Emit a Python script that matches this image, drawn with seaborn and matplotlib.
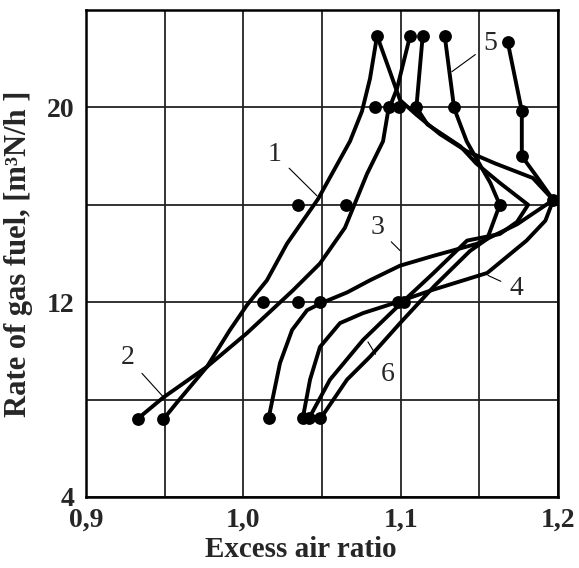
import matplotlib
matplotlib.use("Agg")
import matplotlib.pyplot as plt
import seaborn as sns
import pandas as pd

sns.set_style("white")
plt.rcParams["font.family"] = ["Liberation Serif", "DejaVu Serif"]

# ---- curves (excess air ratio, fuel rate) ----
c1_x = [0.949, 0.9578, 0.9769, 0.9915, 1.0023, 1.015, 1.0278, 1.0475, 1.0678, 1.0754, 1.0805, 1.085]
c1_y = [7.18, 7.88, 9.35, 10.86, 11.88, 12.9, 14.41, 16.24, 18.61, 19.84, 21.18, 22.94]

c2_x = [0.933, 0.949, 0.9769, 1.0023, 1.0316, 1.0487, 1.0646, 1.0786, 1.0888, 1.092, 1.0977, 1.106]
c2_y = [7.22, 8.08, 9.35, 10.73, 12.49, 13.59, 15.06, 17.27, 18.61, 19.84, 20.78, 22.94]

c3_x = [1.0163, 1.0233, 1.031, 1.0405, 1.0494, 1.0659, 1.0805, 1.0996, 1.1206, 1.1485, 1.174, 1.197,
        1.184, 1.160, 1.142, 1.125, 1.110, 1.0996, 1.093, 1.085]
c3_y = [7.31, 9.5, 10.86, 11.67, 11.96, 12.4, 12.9, 13.5, 13.9, 14.4, 15.2, 16.2,
        17.1, 17.7, 18.2, 18.9, 19.7, 20.3, 21.5, 22.94]

c4_x = [1.038, 1.0424, 1.0487, 1.0614, 1.076, 1.0977, 1.12, 1.155, 1.18, 1.192, 1.197,
        1.186, 1.177, 1.177, 1.168]
c4_y = [7.31, 8.82, 10.16, 11.14, 11.55, 12.0, 12.5, 13.2, 14.53, 15.35, 16.2,
        17.2, 18.0, 19.85, 22.7]

c5_x = [1.05, 1.0659, 1.0805, 1.0996, 1.1218, 1.144, 1.155, 1.159, 1.163, 1.157, 1.149, 1.142, 1.134, 1.128]
c5_y = [7.31, 8.82, 9.76, 11.14, 12.69, 14.1, 14.6, 15.3, 16.0, 16.9, 17.8, 18.6, 19.96, 22.94]

c6_x = [1.0424, 1.0551, 1.0761, 1.0977, 1.1206, 1.1422, 1.163, 1.174, 1.181, 1.163, 1.148, 1.138, 1.117, 1.110, 1.114]
c6_y = [7.31, 8.82, 10.45, 11.8, 13.18, 14.53, 14.8, 15.3, 16.0, 16.9, 17.7, 18.4, 19.3, 20.0, 22.94]

# ---- measured points ----
pts_x = [1.085, 1.106, 1.114, 1.128, 1.168,
         1.0837, 1.0926, 1.099, 1.110, 1.134, 1.177,
         1.177,
         1.035, 1.065, 1.163, 1.197,
         1.0125, 1.035, 1.049, 1.0985, 1.102,
         0.933, 0.949, 1.016, 1.038, 1.042, 1.049]
pts_y = [22.94, 22.94, 22.94, 22.94, 22.7,
         20.0, 20.0, 20.0, 20.0, 20.0, 19.85,
         18.0,
         16.0, 16.0, 16.0, 16.2,
         12.0, 12.0, 12.0, 12.0, 12.0,
         7.2, 7.2, 7.25, 7.25, 7.25, 7.25]

x_ticks = [0.9, 0.95, 1.0, 1.05, 1.1, 1.15, 1.2]
x_labels = ["0,9", "", "1,0", "", "1,1", "", "1,2"]
y_ticks = [4, 8, 12, 16, 20, 24]
y_labels = ["4", "", "12", "", "20", ""]

fig = plt.figure(figsize=(5.79, 5.68), dpi=100)
ax = fig.add_axes([86 / 579, 1 - 497 / 568, 472 / 579, 487 / 568])

curves = [(c1_x, c1_y), (c2_x, c2_y), (c3_x, c3_y), (c4_x, c4_y), (c5_x, c5_y), (c6_x, c6_y)]
for cx, cy in curves:
    df = pd.DataFrame({"x": cx, "y": cy})
    sns.lineplot(data=df, x="x", y="y", sort=False, estimator=None, color="black",
                 linewidth=2.8, ax=ax, zorder=3)

sns.scatterplot(x=pts_x, y=pts_y, color="black", s=85, edgecolor="black", linewidth=0,
                ax=ax, zorder=4)

ax.set_xlim(0.9, 1.2)
ax.set_ylim(4, 24)
ax.set_xticks(x_ticks)
ax.set_xticklabels(x_labels)
ax.set_yticks(y_ticks)
ax.set_yticklabels(y_labels)
ax.tick_params(length=0, labelsize=20, pad=8)
for lab in ax.get_xticklabels() + ax.get_yticklabels():
    lab.set_fontweight("bold")
ax.grid(True, color="#222222", linewidth=1.3)
for sp in ax.spines.values():
    sp.set_color("black")
    sp.set_linewidth(1.8)

ax.set_xlabel("Excess air ratio", fontsize=21, fontweight="bold")
ax.xaxis.set_label_coords((301 - 86) / 472, -0.08)
ax.set_ylabel("Rate of gas fuel, [m³N/h ]", fontsize=22, fontweight="bold")
ax.yaxis.set_label_coords(-0.112, 0.5)

labels = [("1", (1.0468, 16.37), (1.0201, 18.08)),
          ("2", (0.949, 8.12), (0.9267, 9.71)),
          ("3", (1.0996, 14.12), (1.085, 15.06)),
          ("4", (1.1555, 13.1), (1.1733, 12.57)),
          ("5", (1.1326, 21.47), (1.1568, 22.61)),
          ("6", (1.0792, 10.37), (1.092, 9.02))]
for t, tip, pos in labels:
    ax.annotate(t, xy=tip, xytext=pos, fontsize=20, ha="center", va="center",
                arrowprops=dict(arrowstyle="-", color="black", lw=0.8, shrinkA=4, shrinkB=0),
                zorder=5)

fig.savefig("out.png", dpi=100)
